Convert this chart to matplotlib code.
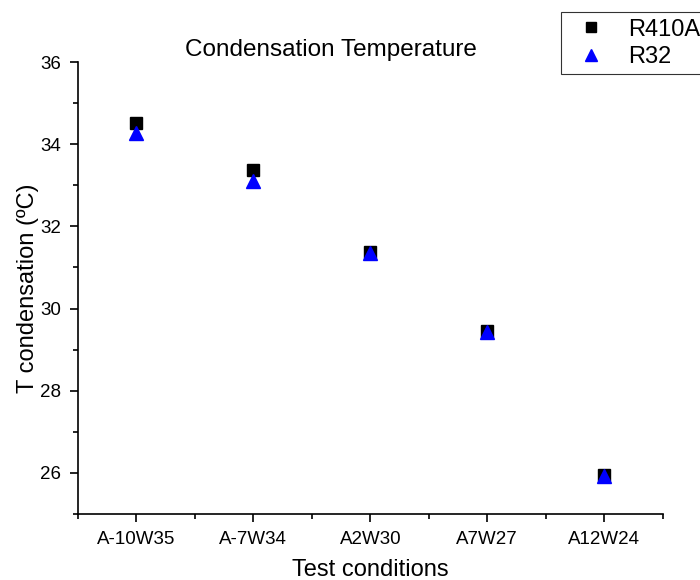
import matplotlib.pyplot as plt
from matplotlib.ticker import MultipleLocator, FixedLocator

plt.rcParams['font.family'] = ['Liberation Sans', 'DejaVu Sans']

conditions = ['A-10W35', 'A-7W34', 'A2W30', 'A7W27', 'A12W24']
r410a = [34.52, 33.37, 31.37, 29.45, 25.95]
r32 = [34.28, 33.10, 31.35, 29.43, 25.93]

fig = plt.figure(figsize=(7, 5.8), dpi=100)
ax = fig.add_axes([0.111, 0.114, 0.836, 0.779])

x = list(range(1, len(conditions) + 1))
ax.plot(x, r410a, 's', color='black', markersize=8, label='R410A')
ax.plot(x, r32, '^', color='blue', markersize=10, label='R32')

ax.set_xlim(0.5, 5.5)
ax.set_ylim(25, 36)
ax.set_xticks(x)
ax.set_xticklabels(conditions)
ax.xaxis.set_minor_locator(FixedLocator([0.5, 1.5, 2.5, 3.5, 4.5, 5.5]))
ax.yaxis.set_major_locator(MultipleLocator(2))
ax.yaxis.set_minor_locator(MultipleLocator(1))

ax.spines['top'].set_visible(False)
ax.spines['right'].set_visible(False)
for s in ('left', 'bottom'):
    ax.spines[s].set_linewidth(1.2)
ax.tick_params(which='major', direction='out', length=6, width=1.2, labelsize=13.5, pad=6)
ax.tick_params(which='minor', direction='out', length=3.5, width=1.2)

ax.set_xlabel('Test conditions', fontsize=17, labelpad=8)
ax.set_ylabel('T condensation (ºC)', fontsize=17, labelpad=1)
fig.text(331 / 700, 0.913, 'Condensation Temperature', fontsize=17.5,
         ha='center', va='center')

leg = fig.legend(loc='upper left', bbox_to_anchor=(561 / 700, 1 - 12 / 580), fontsize=17,
                 frameon=True, fancybox=False, edgecolor='black', markerscale=0.85,
                 handletextpad=0.55, borderpad=0.28, labelspacing=0.22, handlelength=2.0,
                 borderaxespad=0)
leg.get_frame().set_linewidth(0.8)

fig.savefig('out.png', dpi=100)
